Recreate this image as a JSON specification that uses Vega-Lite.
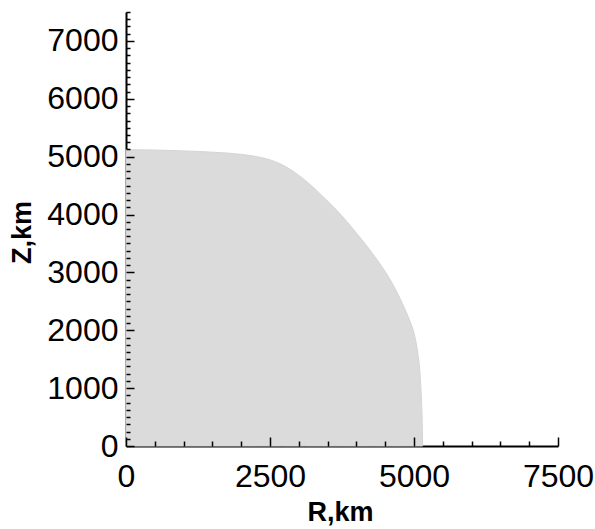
{
  "$schema": "https://vega.github.io/schema/vega-lite/v6.json",
  "width": 432,
  "height": 434,
  "autosize": {"type": "none"},
  "padding": {"left": 126, "top": 12, "right": 37, "bottom": 83},
  "background": "white",
  "config": {"view": {"stroke": null}, "font": "Liberation Sans"},
  "data": {"values": [
    {"R": 0, "Z": 5120},
    {"R": 500, "Z": 5115},
    {"R": 1000, "Z": 5100},
    {"R": 1500, "Z": 5078},
    {"R": 2000, "Z": 5040},
    {"R": 2300, "Z": 4995},
    {"R": 2500, "Z": 4945},
    {"R": 2700, "Z": 4865},
    {"R": 2900, "Z": 4750},
    {"R": 3100, "Z": 4600},
    {"R": 3400, "Z": 4330},
    {"R": 3700, "Z": 4030},
    {"R": 4000, "Z": 3680},
    {"R": 4300, "Z": 3300},
    {"R": 4600, "Z": 2850},
    {"R": 4800, "Z": 2460},
    {"R": 4920, "Z": 2180},
    {"R": 5000, "Z": 1950},
    {"R": 5060, "Z": 1650},
    {"R": 5100, "Z": 1300},
    {"R": 5125, "Z": 900},
    {"R": 5140, "Z": 500},
    {"R": 5150, "Z": 0}
  ]},
  "layer": [
    {
      "mark": {"type": "area", "color": "#dbdbdb", "stroke": "#d5d5d5", "strokeWidth": 1, "interpolate": "monotone"},
      "encoding": {
        "x": {"field": "R", "type": "quantitative",
          "scale": {"domain": [0, 7500], "nice": false, "zero": true},
          "axis": {"orient": "bottom", "values": [0, 2500, 5000, 7500], "format": "d", "ticks": false, "grid": false,
            "domainColor": "black", "domainWidth": 2, "labelColor": "black", "labelFontSize": 32,
            "labelPadding": 15, "labelFlush": false, "labelOverlap": false,
            "title": "R,km", "titleFontSize": 27, "titleFontWeight": "bold", "titleColor": "black",
            "titleBaseline": "alphabetic", "titleY": 74, "titleX": 214, "titleAlign": "center"}},
        "y": {"field": "Z", "type": "quantitative",
          "scale": {"domain": [0, 7500], "nice": false, "zero": true},
          "axis": {"orient": "left", "values": [0, 1000, 2000, 3000, 4000, 5000, 6000, 7000], "format": "d", "ticks": false, "grid": false,
            "domainColor": "black", "domainWidth": 2, "labelColor": "black", "labelFontSize": 32,
            "labelPadding": 8, "labelFlush": false, "labelOverlap": false,
            "title": "Z,km", "titleFontSize": 27, "titleFontWeight": "bold", "titleColor": "black",
            "titleBaseline": "alphabetic", "titleAngle": -90, "titleX": -96, "titleY": 220, "titleAlign": "center"}}
      }
    },
    {
      "mark": {"type": "point", "opacity": 0, "size": 0},
      "encoding": {
        "x": {"field": "R", "type": "quantitative",
          "axis": {"orient": "bottom", "zindex": 2, "values": [0, 500, 1000, 1500, 2000, 2500, 3000, 3500, 4000, 4500, 5000, 5500, 6000, 6500, 7000, 7500],
            "domain": false, "labels": false, "title": null, "grid": false, "tickColor": "black", "tickWidth": 1.5,
            "tickSize": {"condition": {"test": "datum.value % 2500 === 0", "value": -9}, "value": -5}}},
        "y": {"field": "Z", "type": "quantitative",
          "axis": {"orient": "left", "zindex": 2, "values": [0, 125, 250, 375, 500, 625, 750, 875, 1000, 1125, 1250, 1375, 1500, 1625, 1750, 1875, 2000, 2125, 2250, 2375, 2500, 2625, 2750, 2875, 3000, 3125, 3250, 3375, 3500, 3625, 3750, 3875, 4000, 4125, 4250, 4375, 4500, 4625, 4750, 4875, 5000, 5125, 5250, 5375, 5500, 5625, 5750, 5875, 6000, 6125, 6250, 6375, 6500, 6625, 6750, 6875, 7000, 7125, 7250, 7375, 7500],
            "domain": false, "labels": false, "title": null, "grid": false, "tickColor": "black", "tickWidth": 1.5,
            "tickSize": {"condition": {"test": "datum.value % 1000 === 0", "value": -8}, "value": -4}}}
      }
    }
  ],
  "resolve": {"axis": {"x": "independent", "y": "independent"}}
}
